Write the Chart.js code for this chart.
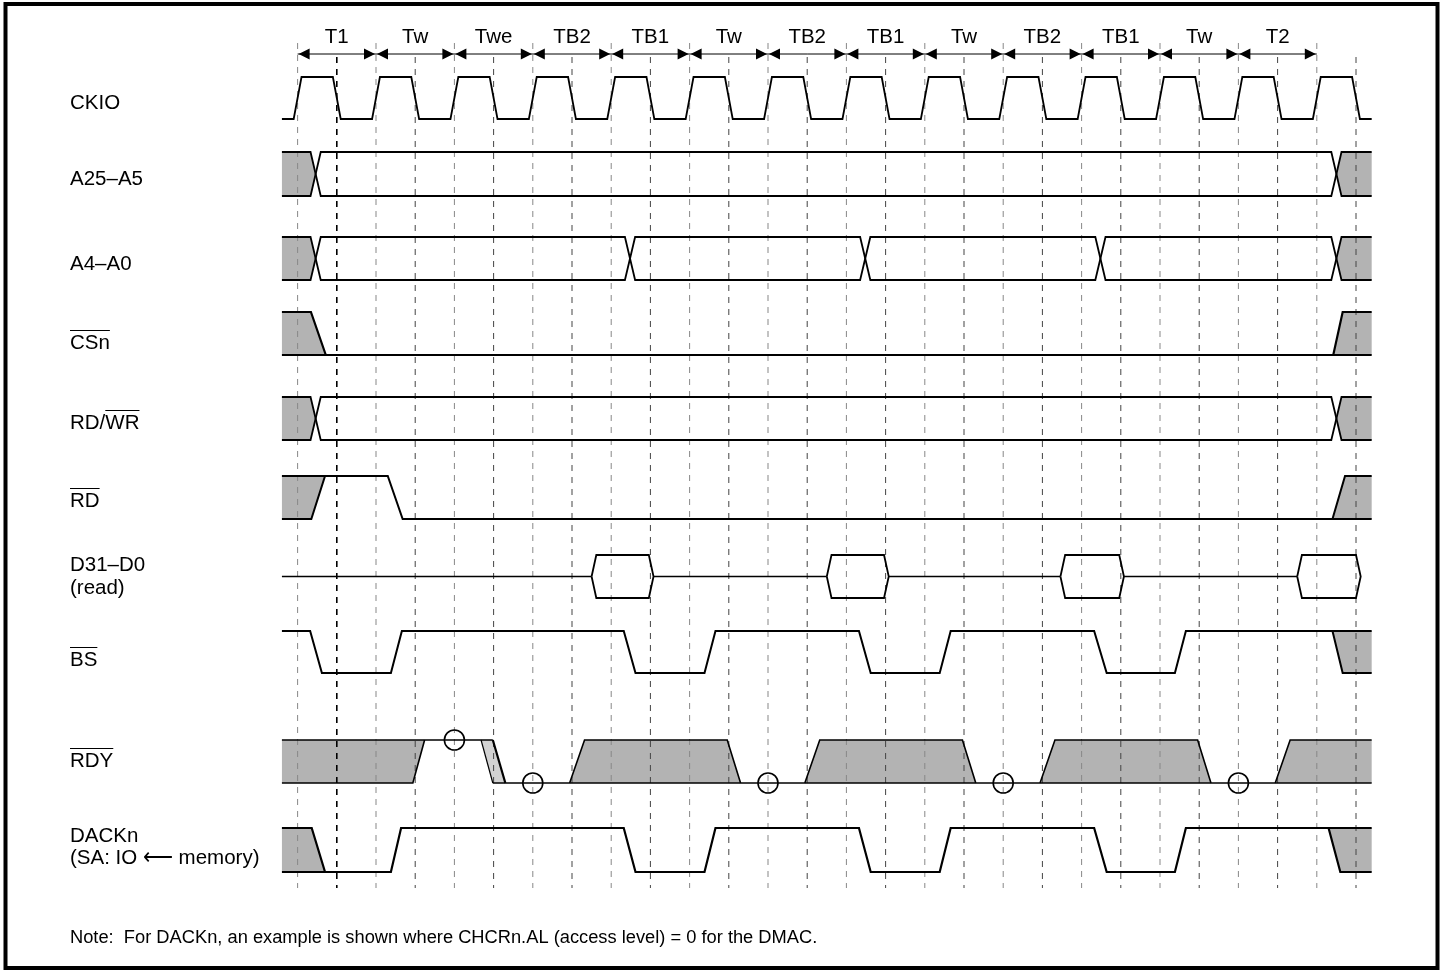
<!DOCTYPE html>
<html>
<head>
<meta charset="utf-8">
<title>Timing diagram</title>
<script src="https://cdn.jsdelivr.net/npm/chart.js@4.4.0/dist/chart.umd.min.js"></script>
<style>
  body { margin: 0; background: #fff; }
  #wrap { width: 1443px; height: 972px; }
</style>
</head>
<body>
<div id="wrap"><canvas id="timing" width="1443" height="972"></canvas></div>
<script>
// Periods (1 unit = 1 CKIO cycle)
const periodLabels = ['T1', 'Tw', 'Twe', 'TB2', 'TB1', 'Tw', 'TB2', 'TB1', 'Tw', 'TB2', 'TB1', 'Tw', 'T2'];
const gridTimes = [0, 0.5, 1, 1.5, 2, 2.5, 3, 3.5, 4, 4.5, 5, 5.5, 6, 6.5,
                   7, 7.5, 8, 8.5, 9, 9.5, 10, 10.5, 11, 11.5, 12, 12.5, 13, 13.5];

// CKIO edges
const ckioRise = [0, 1, 2, 3, 4, 5, 6, 7, 8, 9, 10, 11, 12, 13];
const ckioFall = [0.5, 1.5, 2.5, 3.5, 4.5, 5.5, 6.5, 7.5, 8.5, 9.5, 10.5, 11.5, 12.5, 13.5];

// bus crossings
const a25Cross = [0.23, 13.25];
const a4Cross = [0.23, 4.24, 7.24, 10.24, 13.25];
const rdwrCross = [0.23, 13.25];

// single signals: [t, level]  (1 = high, 0 = low)
const csnLines = [
  [[-0.2, 1], [0.17, 1], [0.36, 0], [13.21, 0], [13.33, 1], [13.7, 1]],
  [[-0.2, 0], [0.36, 0]],
  [[13.21, 0], [13.7, 0]]
];
const csnGray = [
  [[-0.2, 1], [0.17, 1], [0.36, 0], [-0.2, 0]],
  [[13.21, 0], [13.33, 1], [13.7, 1], [13.7, 0]]
];

const rdLines = [
  [[-0.2, 0], [0.175, 0], [0.35, 1], [1.15, 1], [1.34, 0], [13.2, 0], [13.36, 1], [13.7, 1]],
  [[-0.2, 1], [0.35, 1]],
  [[13.2, 0], [13.7, 0]]
];
const rdGray = [
  [[-0.2, 1], [0.35, 1], [0.175, 0], [-0.2, 0]],
  [[13.2, 0], [13.36, 1], [13.7, 1], [13.7, 0]]
];

// D31-D0 valid windows [start, end]
const dBoxes = [[3.75, 4.54], [6.75, 7.54], [9.73, 10.54], [12.75, 13.56]];

const bsLines = [
  [[-0.2, 1], [0.16, 1], [0.31, 0], [1.19, 0], [1.33, 1], [4.16, 1], [4.31, 0], [5.19, 0], [5.33, 1],
   [7.16, 1], [7.31, 0], [8.19, 0], [8.33, 1], [10.16, 1], [10.32, 0], [11.19, 0], [11.33, 1],
   [13.2, 1], [13.33, 0], [13.7, 0]],
  [[13.2, 1], [13.7, 1]]
];
const bsGray = [
  [[13.2, 1], [13.7, 1], [13.7, 0], [13.33, 0]]
];

const rdyLines = [
  [[-0.2, 1], [2.49, 1]],
  [[-0.2, 0], [1.47, 0], [1.62, 1]],
  [[2.49, 0], [13.7, 0]],
  [[3.47, 0], [3.66, 1], [5.48, 1], [5.65, 0]],
  [[6.47, 0], [6.66, 1], [8.48, 1], [8.65, 0]],
  [[9.47, 0], [9.66, 1], [11.48, 1], [11.65, 0]],
  [[12.47, 0], [12.66, 1], [13.7, 1]]
];
const rdyEdgeThin = [[2.34, 1], [2.49, 0]];
const rdyEdgeBold = [[2.49, 1], [2.65, 0]];
const rdyGray = [
  [[-0.2, 1], [1.62, 1], [1.47, 0], [-0.2, 0]],
  [[3.47, 0], [3.66, 1], [5.48, 1], [5.65, 0]],
  [[6.47, 0], [6.66, 1], [8.48, 1], [8.65, 0]],
  [[9.47, 0], [9.66, 1], [11.48, 1], [11.65, 0]],
  [[12.47, 0], [12.66, 1], [13.7, 1], [13.7, 0]]
];
const rdyLight = [[2.34, 1], [2.49, 1], [2.65, 0], [2.49, 0]];
const rdySample = [[2, 1], [3, 0], [6, 0], [9, 0], [12, 0]];

const dackLines = [
  [[-0.2, 1], [0.18, 1], [0.35, 0]],
  [[-0.2, 0], [1.19, 0], [1.32, 1], [4.16, 1], [4.31, 0], [5.19, 0], [5.33, 1],
   [7.16, 1], [7.31, 0], [8.19, 0], [8.33, 1], [10.16, 1], [10.32, 0], [11.19, 0], [11.33, 1],
   [13.15, 1], [13.3, 0], [13.7, 0]],
  [[13.15, 1], [13.7, 1]]
];
const dackGray = [
  [[-0.2, 1], [0.18, 1], [0.35, 0], [-0.2, 0]],
  [[13.15, 1], [13.7, 1], [13.7, 0], [13.3, 0]]
];

// ---- layout (pixels) ----
const T0 = 297.6, PX = 78.4;      // x of t=0, px per cycle
const W = 1443, H = 972;
const T_START = -0.2, T_END = 13.7;
const EDGE = 0.05;                 // clock edge half width
const XH = 0.065;                  // bus crossing half width
const SLANT = 0.06;                // data box slant
const rows = {
  ckio: [77, 119], a25: [152, 196], a4: [237, 280], csn: [312, 355], rdwr: [397, 440],
  rd: [476, 519], d: [555, 598], bs: [631, 673], rdy: [740, 783], dack: [828, 872]
};
const GRAY = '#b3b3b3';
const FONT = '20.5px "Liberation Sans", Arial, sans-serif';
const NOTE_FONT = '18.3px "Liberation Sans", Arial, sans-serif';

function yOf(row, level) {
  const [hi, lo] = rows[row];
  return lo - level * (lo - hi);
}

function pts(row, list) {
  return list.map(([t, v]) => ({ x: t, y: yOf(row, v) }));
}

function lineDs(data, width, color, order) {
  return {
    type: 'line', data, borderColor: color || '#000', borderWidth: width || 1.8,
    pointRadius: 0, fill: false, tension: 0, order: order || 1
  };
}

function polyDs(data, color) {
  const closed = data.concat([data[0]]);
  return {
    type: 'line', data: closed, borderWidth: 0, borderColor: 'rgba(0,0,0,0)',
    backgroundColor: color || GRAY, pointRadius: 0, fill: 'shape', tension: 0, order: 30
  };
}

// clock polyline from edge lists
function clockPoints() {
  const out = [[T_START, 0]];
  ckioRise.forEach((r, i) => {
    out.push([r - EDGE, 0], [r + EDGE, 1]);
    const f = ckioFall[i];
    out.push([f - EDGE, 1], [f + EDGE, 0]);
  });
  out.push([T_END, 0]);
  return out;
}

// bus: two crossing lines plus unknown (gray) ends
function busDatasets(row, crosses) {
  const a = [[T_START, 1]], b = [[T_START, 0]];
  let lvl = 1;
  crosses.forEach(c => {
    a.push([c - XH, lvl], [c + XH, 1 - lvl]);
    b.push([c - XH, 1 - lvl], [c + XH, lvl]);
    lvl = 1 - lvl;
  });
  a.push([T_END, lvl]);
  b.push([T_END, 1 - lvl]);
  const c0 = crosses[0], cn = crosses[crosses.length - 1];
  return [
    polyDs(pts(row, [[T_START, 1], [c0 - XH, 1], [c0, 0.5], [c0 - XH, 0], [T_START, 0]])),
    polyDs(pts(row, [[cn, 0.5], [cn + XH, 1], [T_END, 1], [T_END, 0], [cn + XH, 0]])),
    lineDs(pts(row, a)),
    lineDs(pts(row, b))
  ];
}

function signalDatasets(row, lines, grays, width) {
  const ds = [];
  (grays || []).forEach(g => ds.push(polyDs(pts(row, g))));
  lines.forEach(l => ds.push(lineDs(pts(row, l), width)));
  return ds;
}

function dataDatasets() {
  const ds = [];
  let prev = T_START;
  dBoxes.forEach(([a, b]) => {
    ds.push(lineDs(pts('d', [[prev, 0.5], [a, 0.5]]), 1.6));
    ds.push(lineDs(pts('d', [[a, 0.5], [a + SLANT, 1], [b - SLANT, 1], [b, 0.5],
                             [b - SLANT, 0], [a + SLANT, 0], [a, 0.5]]), 1.8));
    prev = b;
  });
  return ds;
}

function gridDatasets() {
  return gridTimes.map(t => {
    const half = Math.abs(t % 1 - 0.5) < 1e-6;
    const top = half ? 57 : 43;
    const strong = t === 0.5;
    return {
      type: 'line', data: [{ x: t, y: top }, { x: t, y: 888 }],
      borderColor: strong ? '#000' : (half ? '#444' : '#888'),
      borderWidth: strong ? 1.6 : 1, borderDash: [6, 6],
      pointRadius: 0, fill: false, order: 20
    };
  });
}

function buildDatasets() {
  let ds = [];
  ds = ds.concat(gridDatasets());
  ds.push(lineDs(pts('ckio', clockPoints()), 1.8));
  ds = ds.concat(busDatasets('a25', a25Cross));
  ds = ds.concat(busDatasets('a4', a4Cross));
  ds = ds.concat(signalDatasets('csn', csnLines, csnGray, 2.2));
  ds = ds.concat(busDatasets('rdwr', rdwrCross));
  ds = ds.concat(signalDatasets('rd', rdLines, rdGray, 2));
  ds = ds.concat(dataDatasets());
  ds = ds.concat(signalDatasets('bs', bsLines, bsGray, 2));
  ds.push(polyDs(pts('rdy', rdyLight), '#d2d2d2'));
  ds = ds.concat(signalDatasets('rdy', rdyLines, rdyGray, 1.6));
  ds.push(lineDs(pts('rdy', rdyEdgeThin), 1.2));
  ds.push(lineDs(pts('rdy', rdyEdgeBold), 2.2));
  ds = ds.concat(signalDatasets('dack', dackLines, dackGray, 2.2));
  ds.push({
    type: 'scatter', data: pts('rdy', rdySample), showLine: false,
    pointRadius: 10, pointBorderWidth: 1.6, pointBorderColor: '#000',
    pointBackgroundColor: 'rgba(0,0,0,0)', order: 0
  });
  return ds;
}

// signal names, period labels, arrows, note and frame
const labels = [
  { text: 'CKIO', y: 103 },
  { text: 'A25\u2013A5', y: 179 },
  { text: 'A4\u2013A0', y: 264 },
  { text: 'CSn', y: 343, bar: [0, 3] },
  { text: 'RD/WR', y: 423, bar: [3, 5] },
  { text: 'RD', y: 501, bar: [0, 2] },
  { text: 'D31\u2013D0', y: 565 },
  { text: '(read)', y: 588 },
  { text: 'BS', y: 660, bar: [0, 2] },
  { text: 'RDY', y: 761, bar: [0, 3] },
  { text: 'DACKn', y: 836 },
  { text: '(SA: IO \u27F5 memory)', y: 858 }
];
const noteText = 'Note:\u00a0\u00a0For DACKn, an example is shown where CHCRn.AL (access level) = 0 for the DMAC.';

const decorPlugin = {
  id: 'decor',
  afterDraw(chart) {
    const ctx = chart.ctx;
    const x = chart.scales.x;
    ctx.save();
    ctx.fillStyle = '#000';
    ctx.strokeStyle = '#000';
    ctx.font = FONT;
    ctx.textBaseline = 'middle';

    // period labels and arrows
    ctx.textAlign = 'center';
    periodLabels.forEach((lab, i) => {
      ctx.fillText(lab, x.getPixelForValue(i + 0.5), 37);
    });
    const ay = 54;
    ctx.lineWidth = 1;
    ctx.beginPath();
    ctx.moveTo(x.getPixelForValue(0), ay);
    ctx.lineTo(x.getPixelForValue(periodLabels.length), ay);
    ctx.stroke();
    for (let i = 0; i < periodLabels.length; i++) {
      const l = x.getPixelForValue(i), r = x.getPixelForValue(i + 1);
      ctx.beginPath();
      ctx.moveTo(l + 1, ay); ctx.lineTo(l + 12, ay - 5.5); ctx.lineTo(l + 12, ay + 5.5);
      ctx.closePath(); ctx.fill();
      ctx.beginPath();
      ctx.moveTo(r - 1, ay); ctx.lineTo(r - 12, ay - 5.5); ctx.lineTo(r - 12, ay + 5.5);
      ctx.closePath(); ctx.fill();
    }

    // signal names
    ctx.textAlign = 'left';
    labels.forEach(l => {
      ctx.fillText(l.text, 70, l.y);
      if (l.bar) {
        const x0 = 70 + ctx.measureText(l.text.slice(0, l.bar[0])).width;
        const x1 = 70 + ctx.measureText(l.text.slice(0, l.bar[1])).width;
        ctx.lineWidth = 1;
        ctx.beginPath();
        ctx.moveTo(x0, l.y - 12.5);
        ctx.lineTo(x1, l.y - 12.5);
        ctx.stroke();
      }
    });
    ctx.font = NOTE_FONT;
    ctx.fillText(noteText, 70, 938);

    // frame
    ctx.lineWidth = 4;
    ctx.strokeRect(5.5, 4, 1432, 964);
    ctx.restore();
  }
};

document.addEventListener('DOMContentLoaded', () => {
  const ctx = document.getElementById('timing').getContext('2d');
  new Chart(ctx, {
    type: 'line',
    data: { datasets: buildDatasets() },
    options: {
      responsive: false,
      animation: false,
      events: [],
      layout: { padding: 0, autoPadding: false },
      plugins: { legend: { display: false }, tooltip: { enabled: false } },
      scales: {
        x: { type: 'linear', display: false, min: -T0 / PX, max: (W - T0) / PX },
        y: { type: 'linear', display: false, min: 0, max: H, reverse: true }
      }
    },
    plugins: [decorPlugin]
  });
});
</script>
</body>
</html>
